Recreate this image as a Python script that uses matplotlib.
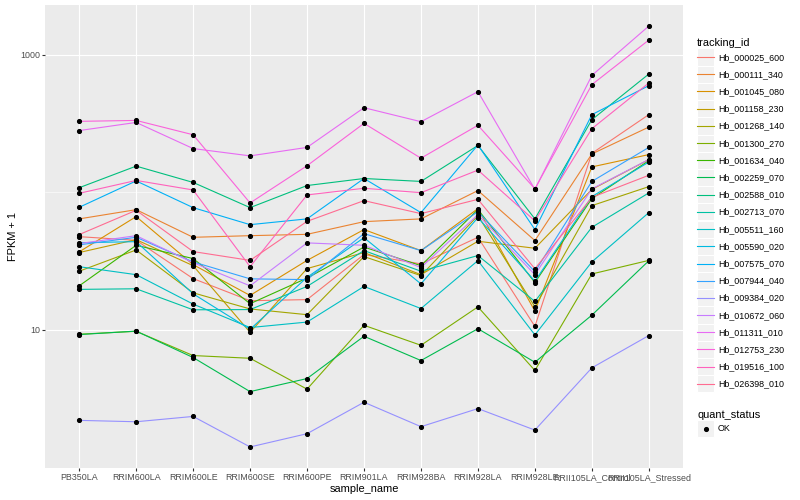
import numpy as np
import matplotlib.pyplot as plt
from matplotlib.lines import Line2D
from matplotlib.patches import Rectangle
from matplotlib.legend_handler import HandlerBase

plt.rcParams['font.family'] = ['Liberation Sans', 'DejaVu Sans']

# Muestras (eje x)
samples = ['PB350LA', 'RRIM600LA', 'RRIM600LE', 'RRIM600SE', 'RRIM600PE',
           'RRIM901LA', 'RRIM928BA', 'RRIM928LA', 'RRIM928LE',
           'RRII105LA_Control', 'RRII105LA_Stressed']

tracking_ids = ['Hb_000025_600', 'Hb_000111_340', 'Hb_001045_080', 'Hb_001158_230',
                'Hb_001268_140', 'Hb_001300_270', 'Hb_001634_040', 'Hb_002259_070',
                'Hb_002588_010', 'Hb_002713_070', 'Hb_005511_160', 'Hb_005590_020',
                'Hb_007575_070', 'Hb_007944_040', 'Hb_009384_020', 'Hb_010672_060',
                'Hb_011311_010', 'Hb_012753_230', 'Hb_019516_100', 'Hb_026398_010']

# FPKM + 1 por gen, en el orden de samples
hb_000025_600 = [47.6, 44.8, 23.6, 16.3, 16.6, 35.3, 30.2, 47.1, 10.6, 192, 367]
hb_000111_340 = [64.1, 74.8, 47.1, 48.4, 49.5, 61.2, 64.1, 103, 44.6, 190, 298]
hb_001045_080 = [36.9, 66.6, 29.8, 17.8, 32.0, 53.6, 37.7, 76.1, 13.7, 153, 188]
hb_001158_230 = [36.5, 45.3, 29.3, 9.6, 27.9, 36.5, 25.2, 44.1, 39.2, 105, 173]
hb_001268_140 = [26.7, 38.1, 18.6, 14.2, 12.9, 34.1, 24.8, 67.7, 14.7, 80.0, 110]
hb_001300_270 = [9.3, 9.77, 6.51, 6.22, 3.71, 10.8, 7.73, 14.7, 5.07, 25.5, 32.0]
hb_001634_040 = [20.9, 41.2, 33.0, 15.5, 23.8, 40.0, 29.3, 75.0, 22.1, 90.0, 170]
hb_002259_070 = [9.25, 9.8, 6.30, 3.56, 4.43, 8.99, 5.99, 10.2, 5.82, 12.8, 31.8]
hb_002588_010 = [108, 155, 118, 77.4, 112, 126, 120, 219, 64.1, 337, 724]
hb_002713_070 = [19.7, 19.9, 14.0, 14.05, 20.7, 37.7, 26.7, 34.7, 16.1, 55.7, 99.0]
hb_005511_160 = [28.8, 25.2, 15.4, 10.4, 11.4, 20.7, 14.3, 31.9, 9.2, 31.2, 71.2]
hb_005590_020 = [43.0, 43.8, 18.3, 10.1, 24.1, 46.8, 21.6, 65.5, 22.6, 93.0, 166]
hb_007575_070 = [77.8, 121, 77.4, 58.2, 64.1, 126, 71.2, 221, 53.6, 367, 596]
hb_007944_040 = [41.5, 47.1, 31.2, 23.5, 23.2, 50.1, 37.7, 72.4, 26.5, 120, 212]
hb_009384_020 = [2.20, 2.15, 2.35, 1.41, 1.76, 2.98, 1.98, 2.68, 1.87, 5.30, 9.10]
hb_010672_060 = [42.4, 48.4, 30.8, 20.9, 42.9, 41.2, 28.4, 68.8, 25.2, 106, 173]
hb_011311_010 = [281, 322, 208, 184, 212, 412, 326, 539, 105, 707, 1616]
hb_012753_230 = [328, 333, 262, 83.7, 156, 317, 177, 307, 106, 606, 1279]
hb_019516_100 = [98.3, 122, 104, 28.8, 95.7, 107, 99.4, 145, 62.0, 290, 623]
hb_026398_010 = [49.3, 74.0, 37.1, 32.0, 61.5, 87.0, 70.0, 88.9, 27.8, 91.9, 133]

series = [hb_000025_600, hb_000111_340, hb_001045_080, hb_001158_230, hb_001268_140,
          hb_001300_270, hb_001634_040, hb_002259_070, hb_002588_010, hb_002713_070,
          hb_005511_160, hb_005590_020, hb_007575_070, hb_007944_040, hb_009384_020,
          hb_010672_060, hb_011311_010, hb_012753_230, hb_019516_100, hb_026398_010]

# paleta hue de ggplot para 20 niveles
colors = ['#F8766D', '#EA8331', '#D89000', '#C09B00', '#A3A500', '#7CAE00', '#39B600',
          '#00BB4E', '#00BF7D', '#00C1A3', '#00BFC4', '#00BAE0', '#00B0F6', '#35A2FF',
          '#9590FF', '#C77CFF', '#E76BF3', '#FA62DB', '#FF62BC', '#FF6C91']

LW = 0.8
MS = 2.7


class KeyHandler(HandlerBase):
    # caja gris con la linea (o el punto) centrada, como las claves de ggplot
    def create_artists(self, legend, orig_handle, xdescent, ydescent,
                       width, height, fontsize, trans):
        bg = Rectangle((-xdescent, -ydescent), width, height, facecolor='#F2F2F2',
                       edgecolor='white', lw=0.8, transform=trans)
        yc = -ydescent + height / 2
        if orig_handle.get_marker() not in (None, 'None', ''):
            key = Line2D([-xdescent + width / 2], [yc], ls='', marker='o', ms=MS,
                         color=orig_handle.get_color(), transform=trans)
        else:
            key = Line2D([-xdescent, -xdescent + width], [yc, yc], lw=LW,
                         color=orig_handle.get_color(), transform=trans)
        return [bg, key]


fig = plt.figure(figsize=(8, 5), dpi=100)
ax = fig.add_axes([45 / 800, 32 / 500, 638 / 800, 463 / 500])
ax.set_facecolor('#EBEBEB')
for s in ax.spines.values():
    s.set_visible(False)

x = np.arange(len(samples))
for vals, c in zip(series, colors):
    ax.plot(x, vals, color=c, lw=LW, zorder=3)
for vals in series:
    ax.plot(x, vals, ls='', marker='o', ms=MS, color='black', zorder=4)

ax.set_yscale('log')
allv = np.concatenate([np.array(v) for v in series])
lo, hi = np.log10(allv.min()), np.log10(allv.max())
pad = 0.05 * (hi - lo)
ax.set_ylim(10 ** (lo - pad), 10 ** (hi + pad))
ax.set_xlim(-0.6, len(samples) - 0.4)

ax.set_yticks([10, 1000])
ax.set_yticklabels(['10', '1000'])
ax.set_yticks([100], minor=True)
ax.yaxis.set_minor_formatter(plt.NullFormatter())
ax.set_xticks(x)
ax.set_xticklabels(samples)

ax.grid(which='major', color='white', lw=0.8, zorder=0)
ax.grid(which='minor', axis='y', color='white', lw=0.4, zorder=0)
ax.set_axisbelow(True)
ax.tick_params(which='major', length=2, width=0.8, color='#333333',
               labelsize=6.4, labelcolor='#4D4D4D', pad=1.6)
ax.tick_params(which='minor', length=0)

ax.set_xlabel('sample_name', fontsize=7.9, labelpad=1.5)
ax.set_ylabel('FPKM + 1', fontsize=7.9, labelpad=1.5)

# leyendas al estilo ggplot
leg_kw = dict(loc='upper left', frameon=False, fontsize=6.4, title_fontsize=7.9,
              handlelength=1.95, handleheight=2.6, handletextpad=0.4, labelspacing=0,
              borderpad=0, borderaxespad=0, alignment='left',
              handler_map={Line2D: KeyHandler()})
h1 = [Line2D([], [], color=c) for c in colors]
fig.legend(h1, tracking_ids, bbox_to_anchor=(697 / 800, 1 - 38.5 / 500),
           title='tracking_id', **leg_kw)
h2 = [Line2D([], [], ls='', marker='o', color='black')]
fig.legend(h2, ['OK'], bbox_to_anchor=(697 / 800, 1 - 410 / 500),
           title='quant_status', **leg_kw)

fig.savefig('out.png', dpi=100)
